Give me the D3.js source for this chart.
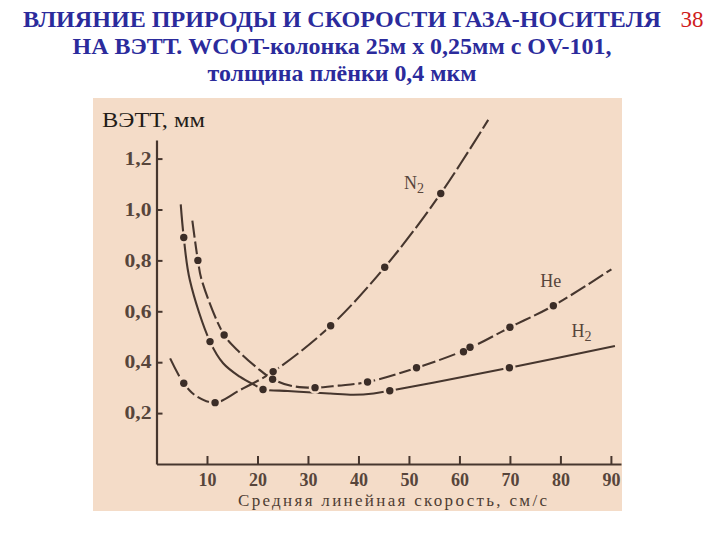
<!DOCTYPE html>
<html><head><meta charset="utf-8">
<script src="https://cdn.jsdelivr.net/npm/d3@7/dist/d3.min.js"></script>
<style>body{margin:0;background:#fff}svg{display:block}</style>
</head><body>
<svg id="c" width="720" height="540"></svg>
<script>
// ---- data ----
const titleLines = ["ВЛИЯНИЕ ПРИРОДЫ И СКОРОСТИ ГАЗА-НОСИТЕЛЯ", "НА ВЭТТ. WCOT-колонка 25м х 0,25мм с OV-101,", "толщина плёнки 0,4 мкм"];
const pageNumber = "38";
const yLabel = "ВЭТТ, мм";
const xLabel = "Средняя линейная скорость, см/с";
const xTicks = [10, 20, 30, 40, 50, 60, 70, 80, 90];
const yTicks = [0.2, 0.4, 0.6, 0.8, 1.0, 1.2];
const seriesNames = ["N2", "He", "H2"];

// curve traces [velocity, HETP]
const n2Curve = [[2.7,0.415],[5.4,0.317],[8.0,0.265],[11.6,0.241],[16.5,0.290],[23.1,0.363],[34.5,0.543],[45.2,0.773],[56.3,1.063],[65.7,1.352]];
const heCurve = [[7.1,0.956],[8.2,0.800],[8.95,0.723],[13.4,0.507],[16.5,0.438],[19.8,0.380],[23.0,0.333],[27.0,0.306],[31.4,0.300],[36.0,0.308],[41.8,0.322],[51.5,0.378],[61.4,0.450],[70.0,0.537],[78.6,0.622],[90.1,0.765]];
const h2Curve = [[4.8,1.020],[5.4,0.890],[6.6,0.723],[10.6,0.481],[13.2,0.396],[16.5,0.343],[19.8,0.306],[21.1,0.293],[26.0,0.287],[30.0,0.282],[34.4,0.277],[39.0,0.272],[43.0,0.277],[46.2,0.288],[55.0,0.320],[69.9,0.378],[90.8,0.464]];

// measured points
const n2Points = [[5.4,0.317],[11.6,0.241],[23.1,0.363],[34.5,0.543],[45.2,0.773],[56.3,1.063]];
const hePoints = [[8.2,0.800],[13.4,0.507],[23.0,0.333],[31.4,0.300],[41.8,0.322],[51.5,0.378],[60.8,0.441],[62.1,0.459],[70.0,0.537],[78.6,0.622]];
const h2Points = [[5.4,0.890],[10.6,0.481],[21.1,0.293],[46.2,0.288],[69.9,0.378]];

// label anchor points [velocity, HETP]
const labelPos = [[49.0,1.08],[76.0,0.695],[82.2,0.50]];

// ---- drawing ----
const SERIF = "'Liberation Serif','DejaVu Serif Condensed','DejaVu Serif',serif";
const svg = d3.select("#c");
const bg = "#f4dcc8", ink = "#46362e", labInk = "#57453b";

svg.append("rect").attr("x",93).attr("y",98).attr("width",529).attr("height",413).attr("fill",bg);

const x = d3.scaleLinear().domain([0, 92]).range([156.5, 621]);
const y = d3.scaleLinear().domain([0, 1.273]).range([464, 140]);

// title
const tt = svg.append("g").attr("font-family",SERIF).attr("font-weight","bold").attr("fill","#2b2b9c").attr("font-size",23);
const tBase = [27, 54, 81];
const tLen = [638, 539, 269];
titleLines.forEach((t,i)=>{
  tt.append("text").attr("x",342).attr("y",tBase[i]).attr("text-anchor","middle")
    .attr("textLength",tLen[i]).attr("lengthAdjust","spacingAndGlyphs").text(t);
});
svg.append("text").attr("x",692).attr("y",27).attr("text-anchor","middle")
  .attr("font-family",SERIF).attr("font-size",23).attr("fill","#d01c1c").text(pageNumber);

// axes
const yAxis = d3.axisLeft(y).tickValues(yTicks).tickSizeInner(-6).tickSizeOuter(0).tickPadding(5)
  .tickFormat(d => d3.format(".1f")(d).replace(".", ","));
const xAxis = d3.axisBottom(x).tickValues(xTicks).tickSizeInner(-8).tickSizeOuter(0).tickPadding(9)
  .tickFormat(d3.format("d"));

const gy = svg.append("g").attr("transform",`translate(${x(0)},0)`).call(yAxis);
const gx = svg.append("g").attr("transform",`translate(0,${y(0)})`).call(xAxis);
[gx, gy].forEach(g=>{
  g.select(".domain").attr("stroke",ink).attr("stroke-width",2.2);
  g.selectAll(".tick line").attr("stroke",ink).attr("stroke-width",2);
  g.selectAll(".tick text").attr("fill",labInk).attr("font-family",SERIF)
    .attr("font-weight","bold").attr("font-size",18);
});
gy.selectAll(".tick text").attr("textLength",27).attr("lengthAdjust","spacingAndGlyphs");
gx.selectAll(".tick text").attr("dy","0.71em");

svg.append("text").attr("x",102).attr("y",127).attr("font-family",SERIF)
  .attr("font-size",21).attr("fill","#231c18").attr("textLength",103).attr("lengthAdjust","spacingAndGlyphs").text(yLabel);
svg.append("text").attr("x",238).attr("y",506).attr("font-family",SERIF)
  .attr("font-size",17).attr("fill","#4e3d33").attr("textLength",309).attr("lengthAdjust","spacing").text(xLabel);

// curves
const line = d3.line().x(d=>x(d[0])).y(d=>y(d[1])).curve(d3.curveCatmullRom.alpha(0.5));
const curves = [[n2Curve,"20,4"],[heCurve,"17,4"],[h2Curve,null]];
curves.forEach(([c,dash])=>{
  const p = svg.append("path").datum(c).attr("d",line).attr("fill","none")
    .attr("stroke",ink).attr("stroke-width",2.1).attr("stroke-linecap","butt");
  if (dash) p.attr("stroke-dasharray",dash);
});

// markers with paper-coloured gap around them
[n2Points, hePoints, h2Points].forEach(pts=>{
  svg.append("g").selectAll("circle.h").data(pts).join("circle")
    .attr("cx",d=>x(d[0])).attr("cy",d=>y(d[1])).attr("r",6.3).attr("fill",bg);
});
[n2Points, hePoints, h2Points].forEach(pts=>{
  svg.append("g").selectAll("circle.m").data(pts).join("circle")
    .attr("cx",d=>x(d[0])).attr("cy",d=>y(d[1])).attr("r",3.7).attr("fill","#3b2d27");
});

// series labels with subscript
const lab = svg.append("g").attr("font-family",SERIF).attr("font-size",18).attr("fill",labInk);
seriesNames.forEach((n,i)=>{
  const t = lab.append("text").attr("x",x(labelPos[i][0])).attr("y",y(labelPos[i][1]));
  const m = n.match(/^([A-Za-z]+)(\d*)$/);
  t.append("tspan").text(m[1]);
  if (m[2]) t.append("tspan").attr("dy",4).attr("font-size",14).text(m[2]);
});
</script>
</body></html>
